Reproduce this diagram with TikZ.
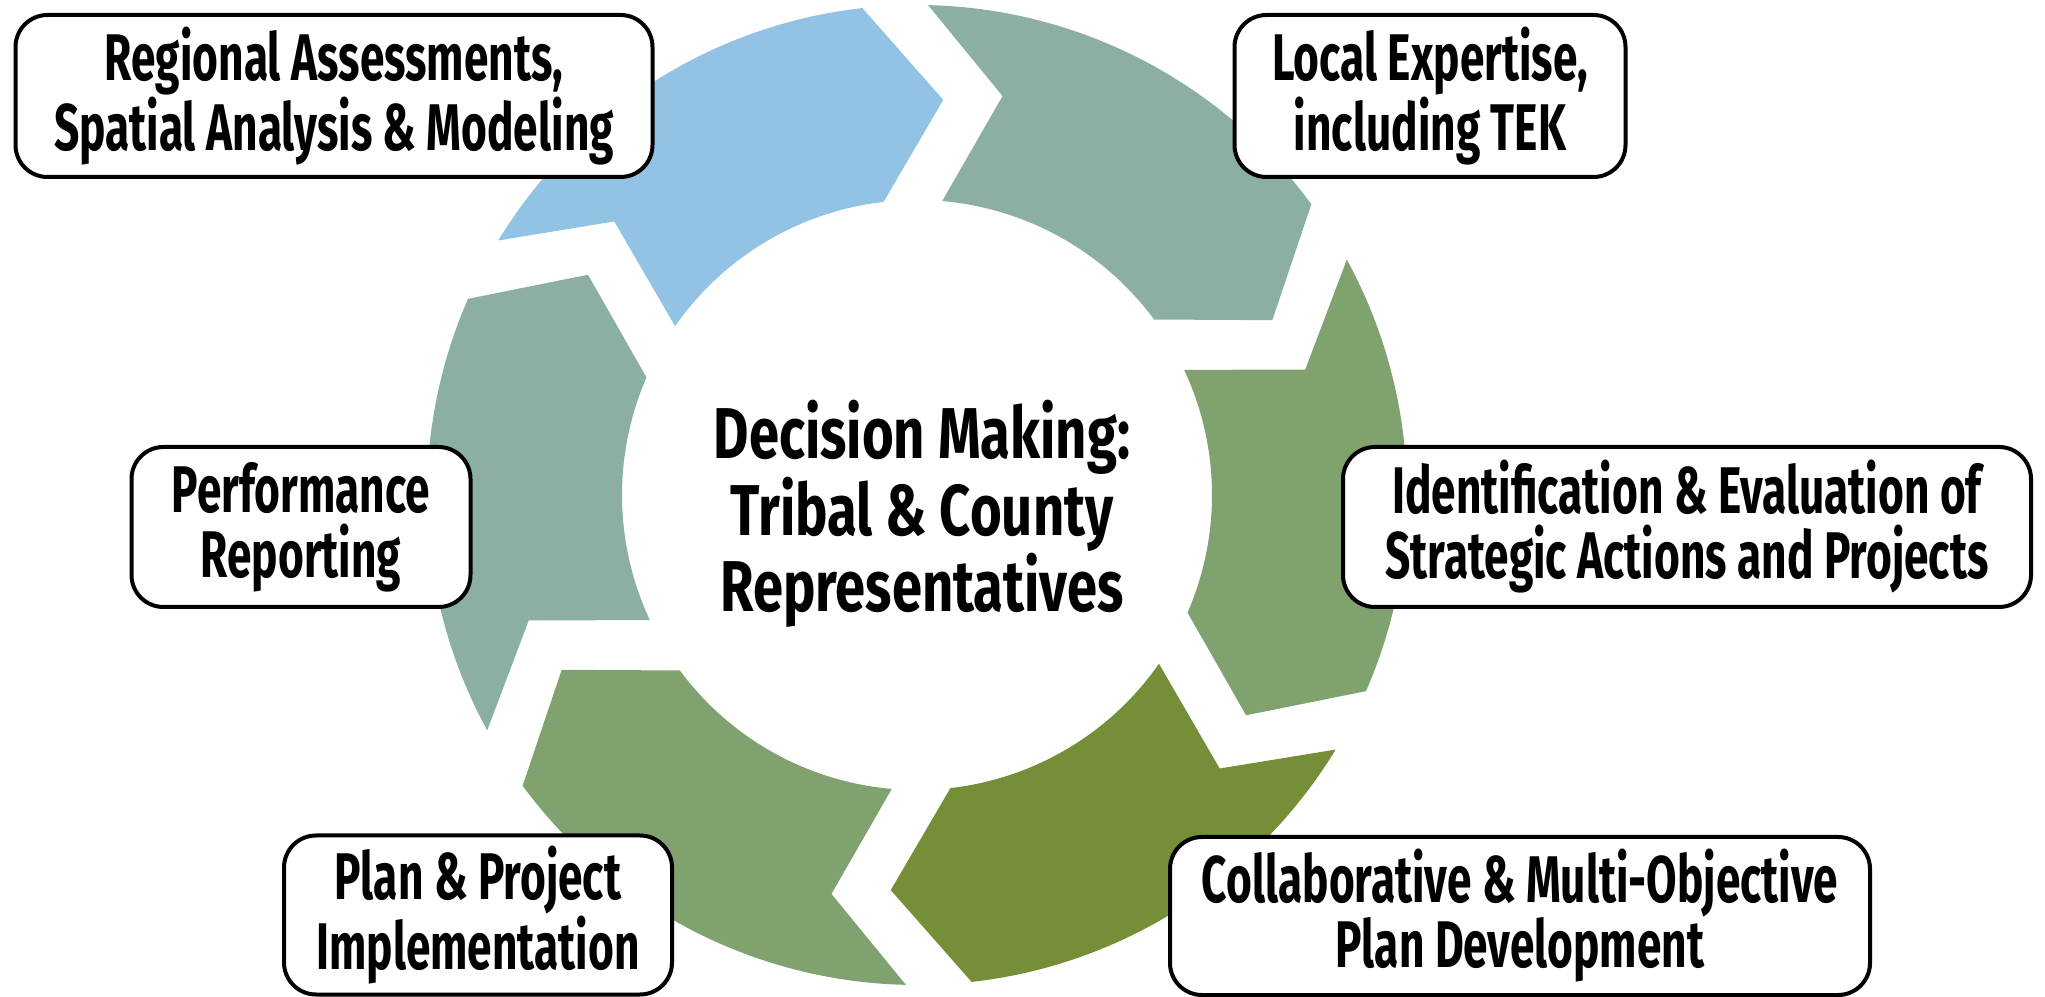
\documentclass[tikz,border=0pt]{standalone}
\usepackage{fontspec}
\newfontfamily\condfont[FakeStretch=0.67]{Fira Sans}
\newfontfamily\centfont[FakeStretch=0.755]{Fira Sans}
\usetikzlibrary{calc}
\definecolor{cblue}{HTML}{92C3E4}
\definecolor{cteal}{HTML}{8BB0A1}
\definecolor{cgreen}{HTML}{80A26E}
\definecolor{colive}{HTML}{748F37}
\begin{document}
\begin{tikzpicture}[x=0.5pt,y=0.5pt,
  lbl/.style={draw=black, line width=2pt, fill=white, rounded corners=16pt, inner sep=0pt, align=center,
    font=\condfont\bfseries\fontsize{33}{32.5}\selectfont},
  ctr/.style={align=center, inner sep=0pt, font=\centfont\bfseries\fontsize{36}{36.5}\selectfont}]
\useasboundingbox (0,0) rectangle (2045,996);
\coordinate (C) at (917,501);
\foreach \t/\col in {60/cblue, 0/cteal, -60/cgreen, -120/colive, -180/cgreen, 120/cteal}{
  \fill[\col] ($(C)+(\t+88.7:245pt)$) arc[start angle=\t+88.7, end angle=\t+36.4, radius=245pt]
    -- ($(C)+(\t+26.2:198pt)$) -- ($(C)+(\t+36.5:147.5pt)$)
    arc[start angle=\t+36.5, end angle=\t+85.1, radius=147.5pt]
    -- ($(C)+(\t+77.9:204pt)$) -- cycle;
}
\node[lbl, minimum width=318.5pt, minimum height=81pt] (ra) at (334,900) {Regional Assessments,\\Spatial Analysis \& Modeling};
\node[lbl, minimum width=195.5pt, minimum height=81pt] (le) at (1430,900) {Local Expertise,\\including TEK};
\node[lbl, minimum width=169.5pt, minimum height=80pt] (pr) at (301,469) {Performance\\Reporting};
\node[lbl, minimum width=344pt, minimum height=80pt] (ie) at (1687,469) {Identification \& Evaluation of\\Strategic Actions and Projects};
\node[lbl, minimum width=194pt, minimum height=79.5pt] (pp) at (478,81) {Plan \& Project\\Implementation};
\node[lbl, minimum width=350pt, minimum height=79pt] (cm) at (1520,80) {Collaborative \& Multi-Objective\\Plan Development};
\node[ctr] (dm) at (922,482) {Decision Making:\\Tribal \& County\\Representatives};
\end{tikzpicture}
\end{document}
